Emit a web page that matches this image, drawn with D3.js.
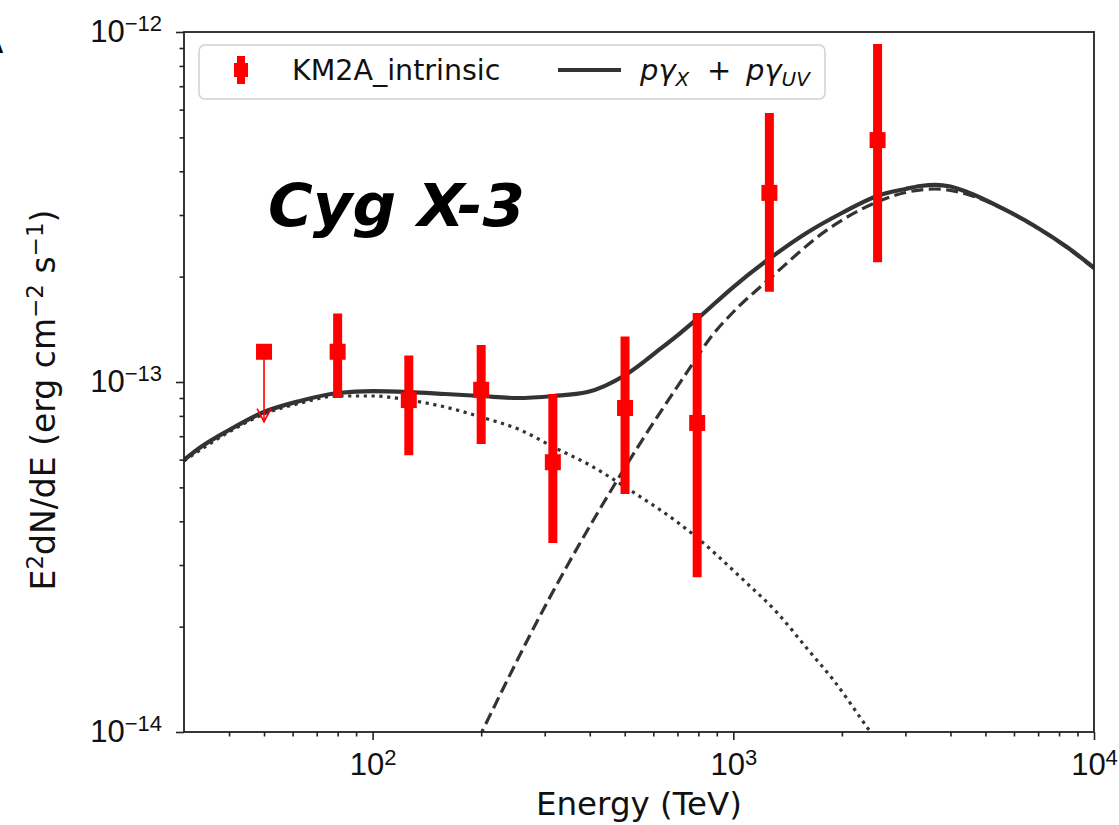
<!DOCTYPE html>
<html><head><meta charset="utf-8">
<script src="https://cdn.jsdelivr.net/npm/d3@7"></script>
<style>
html,body{margin:0;padding:0;background:#fff;}
svg{display:block;font-family:"DejaVu Sans",sans-serif;}
</style></head><body>
<svg id="chart" width="1119" height="825"></svg>
<script>
// KM2A intrinsic spectrum of Cyg X-3 (E in TeV, E^2 dN/dE in erg cm^-2 s^-1)
const pointEnergy   = [80, 126, 200, 316, 501, 794, 1259, 2512];
const pointFlux     = [1.22e-13, 0.888e-13, 0.95e-13, 0.59e-13, 0.843e-13, 0.764e-13, 3.47e-13, 4.91e-13];
const pointFluxLow  = [0.90e-13, 0.618e-13, 0.665e-13, 0.347e-13, 0.479e-13, 0.277e-13, 1.81e-13, 2.20e-13];
const pointFluxHigh = [1.57e-13, 1.19e-13, 1.276e-13, 0.924e-13, 1.35e-13, 1.574e-13, 5.87e-13, 9.24e-13];

// upper limit in the lowest bin
const limitEnergy  = [50];
const limitFlux    = [1.22e-13];
const limitArrowTo = [0.77e-13];

// model: p-gamma_X + p-gamma_UV (total)
const totalEnergy = [30, 33.4, 40, 50, 63, 80, 100, 126, 159, 200, 252, 317, 394, 502, 627, 713, 800, 1000, 1266, 1600, 2000, 2506, 3000, 3300, 3630, 4000, 4446, 5490, 6776, 8414, 10000];
const totalFlux   = [5.99e-14, 6.52e-14, 7.29e-14, 8.21e-14, 8.83e-14, 9.30e-14, 9.42e-14, 9.36e-14, 9.24e-14, 9.12e-14, 9.0e-14, 9.12e-14, 9.36e-14, 1.047e-13, 1.243e-13, 1.38e-13, 1.524e-13, 1.868e-13, 2.26e-13, 2.67e-13, 3.04e-13, 3.40e-13, 3.56e-13, 3.63e-13, 3.66e-13, 3.62e-13, 3.49e-13, 3.16e-13, 2.81e-13, 2.43e-13, 2.12e-13];

// p-gamma_X component (dotted)
const pgXEnergy = [30, 40, 50, 63, 80, 100, 126, 159, 200, 257, 317, 400, 502, 776, 1066, 1324, 1614, 1892, 2351, 2450];
const pgXFlux   = [5.95e-14, 7.2e-14, 8.1e-14, 8.7e-14, 9.12e-14, 9.12e-14, 8.88e-14, 8.48e-14, 7.94e-14, 7.29e-14, 6.52e-14, 5.79e-14, 5.01e-14, 3.66e-14, 2.72e-14, 2.19e-14, 1.715e-14, 1.41e-14, 1.03e-14, 0.97e-14];

// p-gamma_UV component (dashed)
const pgUVEnergy = [196, 307, 477, 774, 863, 1000, 1266, 1820, 2506, 3000, 3630, 4446, 5490, 6776, 8414, 10000];
const pgUVFlux   = [0.95e-14, 2.38e-14, 5.25e-14, 1.133e-13, 1.336e-13, 1.585e-13, 1.98e-13, 2.72e-13, 3.27e-13, 3.48e-13, 3.56e-13, 3.44e-13, 3.15e-13, 2.80e-13, 2.42e-13, 2.11e-13];

// axis ticks
const xMajor = [100, 1000, 10000];
const xMajorExp = ["2", "3", "4"];
const xMinor = [40, 50, 60, 70, 80, 90, 200, 300, 400, 500, 600, 700, 800, 900, 2000, 3000, 4000, 5000, 6000, 7000, 8000, 9000];
const yMajor = [1e-14, 1e-13, 1e-12];
const yMajorExp = ["\u221214", "\u221213", "\u221212"];
const yMinor = [2e-14, 3e-14, 4e-14, 5e-14, 6e-14, 7e-14, 8e-14, 9e-14, 2e-13, 3e-13, 4e-13, 5e-13, 6e-13, 7e-13, 8e-13, 9e-13];

const svg = d3.select("#chart");
const plotL = 184, plotR = 1094, plotT = 32, plotB = 732;
const x = d3.scaleLog().domain([30, 1e4]).range([plotL, plotR]);
const y = d3.scaleLog().domain([1e-14, 1e-12]).range([plotB, plotT]);

const ink = "#222";
const curveColor = "#333";

svg.append("defs").append("clipPath").attr("id", "plot-clip")
  .append("rect").attr("x", plotL).attr("y", plotT).attr("width", plotR - plotL).attr("height", plotB - plotT);

// fragment of panel letter at the left edge
svg.append("text").attr("x", -20).attr("y", 53).attr("font-size", 30).attr("font-weight", "bold").text("A");

// ticks
function styleAxis(g) {
  g.select(".domain").remove();
  g.selectAll(".tick line").attr("stroke", ink).attr("stroke-width", 1.6);
}
function powerLabels(g, exps, supShift) {
  g.selectAll(".tick text").each(function (d, i) {
    const t = d3.select(this);
    t.text(null).attr("fill", "#111").attr("font-size", 31);
    t.append("tspan").text("10");
    t.append("tspan").attr("font-size", 22).attr("dy", -supShift).text(exps[i]);
  });
}

svg.append("g").attr("transform", `translate(0,${plotB})`)
  .call(d3.axisBottom(x).tickValues(xMinor).tickSize(4.5).tickFormat(""))
  .call(styleAxis);
svg.append("g").attr("transform", `translate(0,${plotB})`)
  .call(d3.axisBottom(x).tickValues(xMajor).tickSize(8).tickPadding(13).tickFormat(() => ""))
  .call(styleAxis)
  .call(g => powerLabels(g, xMajorExp, 10));

svg.append("g").attr("transform", `translate(${plotL},0)`)
  .call(d3.axisLeft(y).tickValues(yMinor).tickSize(4.5).tickFormat(""))
  .call(styleAxis);
svg.append("g").attr("transform", `translate(${plotL},0)`)
  .call(d3.axisLeft(y).tickValues(yMajor).tickSize(8).tickPadding(14).tickFormat(() => ""))
  .call(styleAxis)
  .call(g => powerLabels(g, yMajorExp, 11));

// model curves
const line = d3.line().x(d => x(d[0])).y(d => y(d[1])).curve(d3.curveMonotoneX);
const plot = svg.append("g").attr("clip-path", "url(#plot-clip)");
plot.append("path").datum(d3.zip(pgXEnergy, pgXFlux)).attr("d", line)
  .attr("fill", "none").attr("stroke", curveColor).attr("stroke-width", 3.2)
  .attr("stroke-dasharray", "3.2,4.6");
plot.append("path").datum(d3.zip(pgUVEnergy, pgUVFlux)).attr("d", line)
  .attr("fill", "none").attr("stroke", curveColor).attr("stroke-width", 3.2)
  .attr("stroke-dasharray", "12,5.5");
plot.append("path").datum(d3.zip(totalEnergy, totalFlux)).attr("d", line)
  .attr("fill", "none").attr("stroke", curveColor).attr("stroke-width", 4.2);

// data points with error bars
const red = "#ff0000";
const pts = d3.range(pointEnergy.length).map(i => ({
  e: pointEnergy[i], f: pointFlux[i], lo: pointFluxLow[i], hi: pointFluxHigh[i]
}));
const pg = svg.append("g");
pg.selectAll("line.err").data(pts).join("line")
  .attr("x1", d => x(d.e)).attr("x2", d => x(d.e))
  .attr("y1", d => y(d.hi)).attr("y2", d => y(d.lo))
  .attr("stroke", red).attr("stroke-width", 9);
pg.selectAll("rect.mk").data(pts).join("rect")
  .attr("x", d => x(d.e) - 8).attr("y", d => y(d.f) - 8)
  .attr("width", 16).attr("height", 16).attr("fill", red);

// upper limit with arrow
const uls = d3.range(limitEnergy.length).map(i => ({ e: limitEnergy[i], f: limitFlux[i], to: limitArrowTo[i] }));
uls.forEach(d => {
  const cx = x(d.e), y0 = y(d.f), y1 = y(d.to);
  pg.append("line").attr("x1", cx).attr("x2", cx).attr("y1", y0).attr("y2", y1)
    .attr("stroke", red).attr("stroke-width", 1.6);
  pg.append("polyline").attr("points", `${cx - 7},${y1 - 13} ${cx},${y1} ${cx + 7},${y1 - 13}`)
    .attr("fill", "none").attr("stroke", red).attr("stroke-width", 1.6);
  pg.append("rect").attr("x", cx - 8).attr("y", y0 - 8).attr("width", 16).attr("height", 16).attr("fill", red);
});

// frame
svg.append("rect").attr("x", plotL).attr("y", plotT).attr("width", plotR - plotL).attr("height", plotB - plotT)
  .attr("fill", "none").attr("stroke", ink).attr("stroke-width", 1.8);

// axis titles
svg.append("text").attr("x", (plotL + plotR) / 2).attr("y", 815).attr("text-anchor", "middle")
  .attr("font-size", 32.5).attr("fill", "#111").text("Energy (TeV)");

const yl = svg.append("text").attr("transform", `translate(55,400) rotate(-90)`)
  .attr("text-anchor", "middle").attr("font-size", 33).attr("fill", "#111");
yl.append("tspan").text("E");
yl.append("tspan").attr("font-size", 23).attr("dy", -12).text("2");
yl.append("tspan").attr("dy", 12).text("dN/dE (erg cm");
yl.append("tspan").attr("font-size", 23).attr("dy", -12).text("\u22122");
yl.append("tspan").attr("dy", 12).text(" s");
yl.append("tspan").attr("font-size", 23).attr("dy", -12).text("\u22121");
yl.append("tspan").attr("dy", 12).text(")");

// source name
svg.append("text").attr("x", 268).attr("y", 226).attr("font-size", 59).attr("font-weight", "bold")
  .attr("font-style", "italic").attr("textLength", 257).attr("lengthAdjust", "spacingAndGlyphs")
  .text("Cyg X-3");

// legend
const lg = svg.append("g");
lg.append("rect").attr("x", 199).attr("y", 45).attr("width", 626).attr("height", 54).attr("rx", 6)
  .attr("fill", "#fff").attr("fill-opacity", 0.8).attr("stroke", "#d0d0d0").attr("stroke-width", 1.5);
lg.append("line").attr("x1", 241).attr("x2", 241).attr("y1", 56).attr("y2", 84)
  .attr("stroke", red).attr("stroke-width", 8);
lg.append("rect").attr("x", 234).attr("y", 63).attr("width", 14).attr("height", 14).attr("fill", red);
lg.append("text").attr("x", 292).attr("y", 80).attr("font-size", 28.5).attr("fill", "#111").text("KM2A_intrinsic");
lg.append("line").attr("x1", 558).attr("x2", 621).attr("y1", 70).attr("y2", 70)
  .attr("stroke", curveColor).attr("stroke-width", 4.2);
const mt = lg.append("text").attr("y", 80).attr("font-size", 29).attr("fill", "#111");
mt.append("tspan").attr("x", 640).attr("font-style", "italic").text("p\u03b3");
mt.append("tspan").attr("font-style", "italic").attr("font-size", 20).attr("dy", 6).text("X");
mt.append("tspan").attr("x", 707).attr("dy", -6).text("+");
mt.append("tspan").attr("x", 746).attr("font-style", "italic").text("p\u03b3");
mt.append("tspan").attr("font-style", "italic").attr("font-size", 20).attr("dy", 6).text("UV");
</script>
</body></html>
